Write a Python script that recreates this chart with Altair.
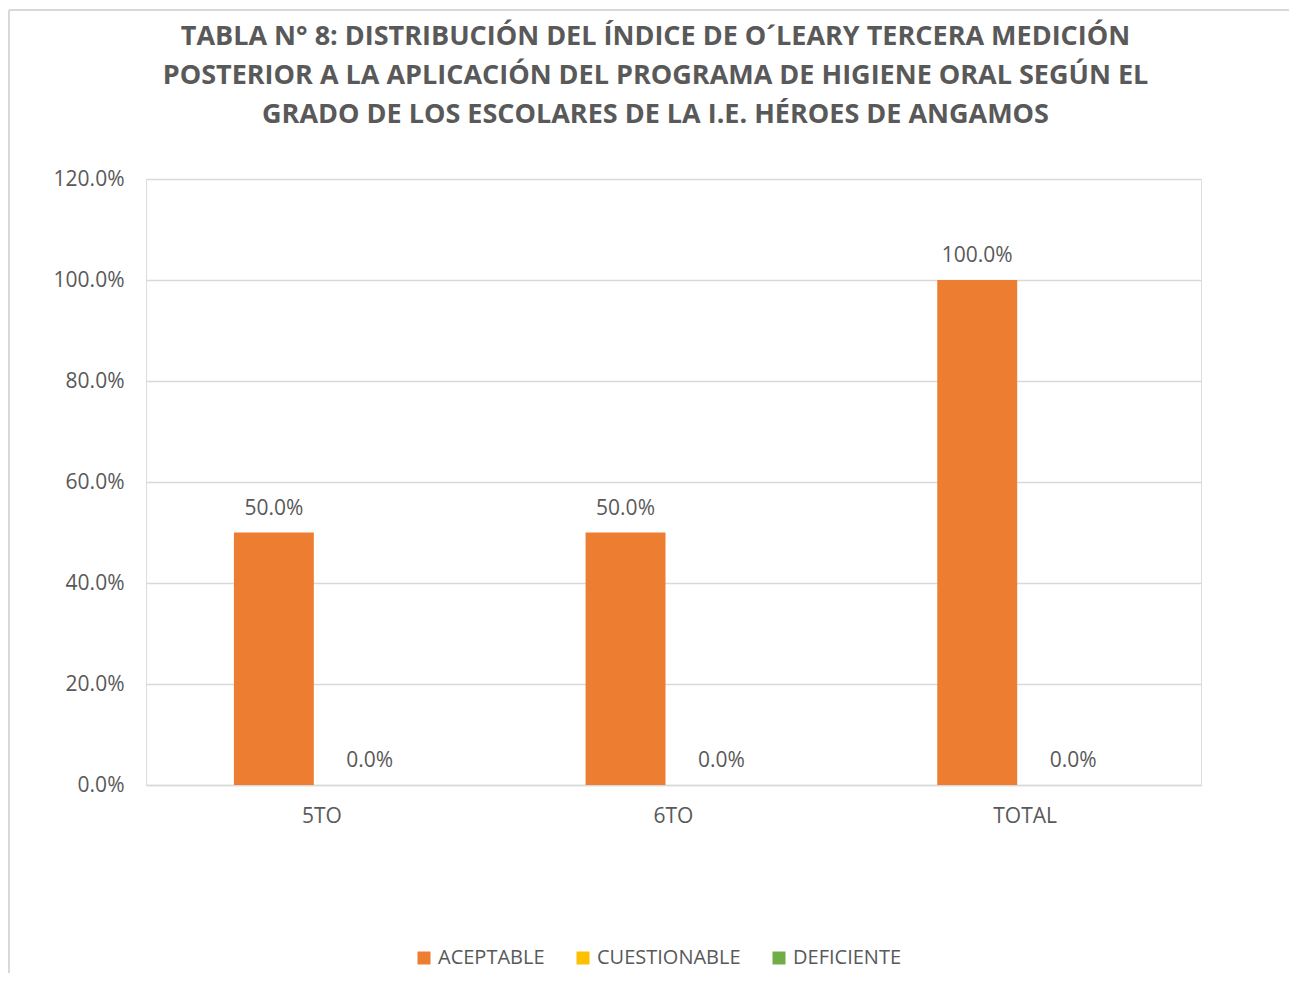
import altair as alt
import pandas as pd

grados = ["5TO", "6TO", "TOTAL"]
series = ["ACEPTABLE", "CUESTIONABLE", "DEFICIENTE"]
colores = ["#ED7D31", "#FFC000", "#70AD47"]
aceptable = [0.50, 0.50, 1.00]
cuestionable = [0.0, 0.0, 0.0]
plotted_series = ["ACEPTABLE", "CUESTIONABLE"]

rows = []
for g, a, c in zip(grados, aceptable, cuestionable):
    rows.append({"grado": g, "serie": "ACEPTABLE", "valor": a})
    rows.append({"grado": g, "serie": "CUESTIONABLE", "valor": c})
df = pd.DataFrame(rows)

FONT = "Open Sans"
GRAY = "#595959"
GRID = "#d9d9d9"
W, H = 1055, 606
FS = 21

x = alt.X("grado:N", sort=grados, title=None,
          scale=alt.Scale(paddingInner=0, paddingOuter=0),
          axis=alt.Axis(labelAngle=0, ticks=False, domain=True, domainColor=GRID,
                        domainWidth=1.5, labelColor=GRAY, labelFont=FONT,
                        labelFontSize=FS, labelPadding=20))
xo = alt.XOffset("serie:N", scale=alt.Scale(domain=plotted_series,
                                            paddingInner=0.1667, paddingOuter=0.9167))
y = alt.Y("valor:Q", title=None,
          scale=alt.Scale(domain=[0, 1.2], nice=False),
          axis=alt.Axis(format=".1%", values=[0, 0.2, 0.4, 0.6, 0.8, 1.0, 1.2],
                        ticks=False, domain=False, gridColor=GRID, gridWidth=1.5,
                        labelColor=GRAY, labelFont=FONT, labelFontSize=FS,
                        labelPadding=22))

color = alt.Color("serie:N", scale=alt.Scale(domain=series, range=colores),
                  legend=alt.Legend(orient="none", legendX=268, legendY=769,
                                    direction="horizontal", title=None,
                                    symbolType="square", symbolSize=169,
                                    symbolStrokeWidth=0, labelFont=FONT,
                                    labelFontSize=20, labelColor=GRAY,
                                    columnPadding=28, labelOffset=4))

bars = alt.Chart(df).mark_bar().encode(x=x, xOffset=xo, y=y, color=color)
labels = alt.Chart(df).mark_text(dy=-14, font=FONT, fontSize=FS, color=GRAY,
                                 baseline="bottom").encode(
    x=alt.X("grado:N", sort=grados), xOffset=xo, y="valor:Q",
    text=alt.Text("valor:Q", format=".1%"))

frame_v = alt.Chart(df).mark_rule(color=GRID, strokeWidth=2).encode(
    x=alt.value(-137), y=alt.value(-169), y2=alt.value(800))
frame_h = alt.Chart(df).mark_rule(color=GRID, strokeWidth=2).encode(
    x=alt.value(-137), x2=alt.value(1160), y=alt.value(-169))

chart = alt.layer(frame_v, frame_h, bars, labels).properties(
    width=W, height=H,
    title=alt.TitleParams(
        text=["TABLA N° 8: DISTRIBUCIÓN DEL ÍNDICE DE O´LEARY TERCERA MEDICIÓN",
              "POSTERIOR A LA APLICACIÓN DEL PROGRAMA DE HIGIENE ORAL SEGÚN EL",
              "GRADO DE LOS ESCOLARES DE LA I.E. HÉROES DE ANGAMOS"],
        font=FONT, fontSize=27, fontWeight="bold", color=GRAY,
        anchor="middle", frame="group", offset=-120, dx=-18, lineHeight=39),
    autosize=alt.AutoSizeParams(type="none"),
    padding={"left": 138, "top": 171, "right": 88, "bottom": 188},
).configure_view(stroke=None).configure(background="white")

chart.save("out.html", embed_options={"renderer": "svg", "actions": False})
